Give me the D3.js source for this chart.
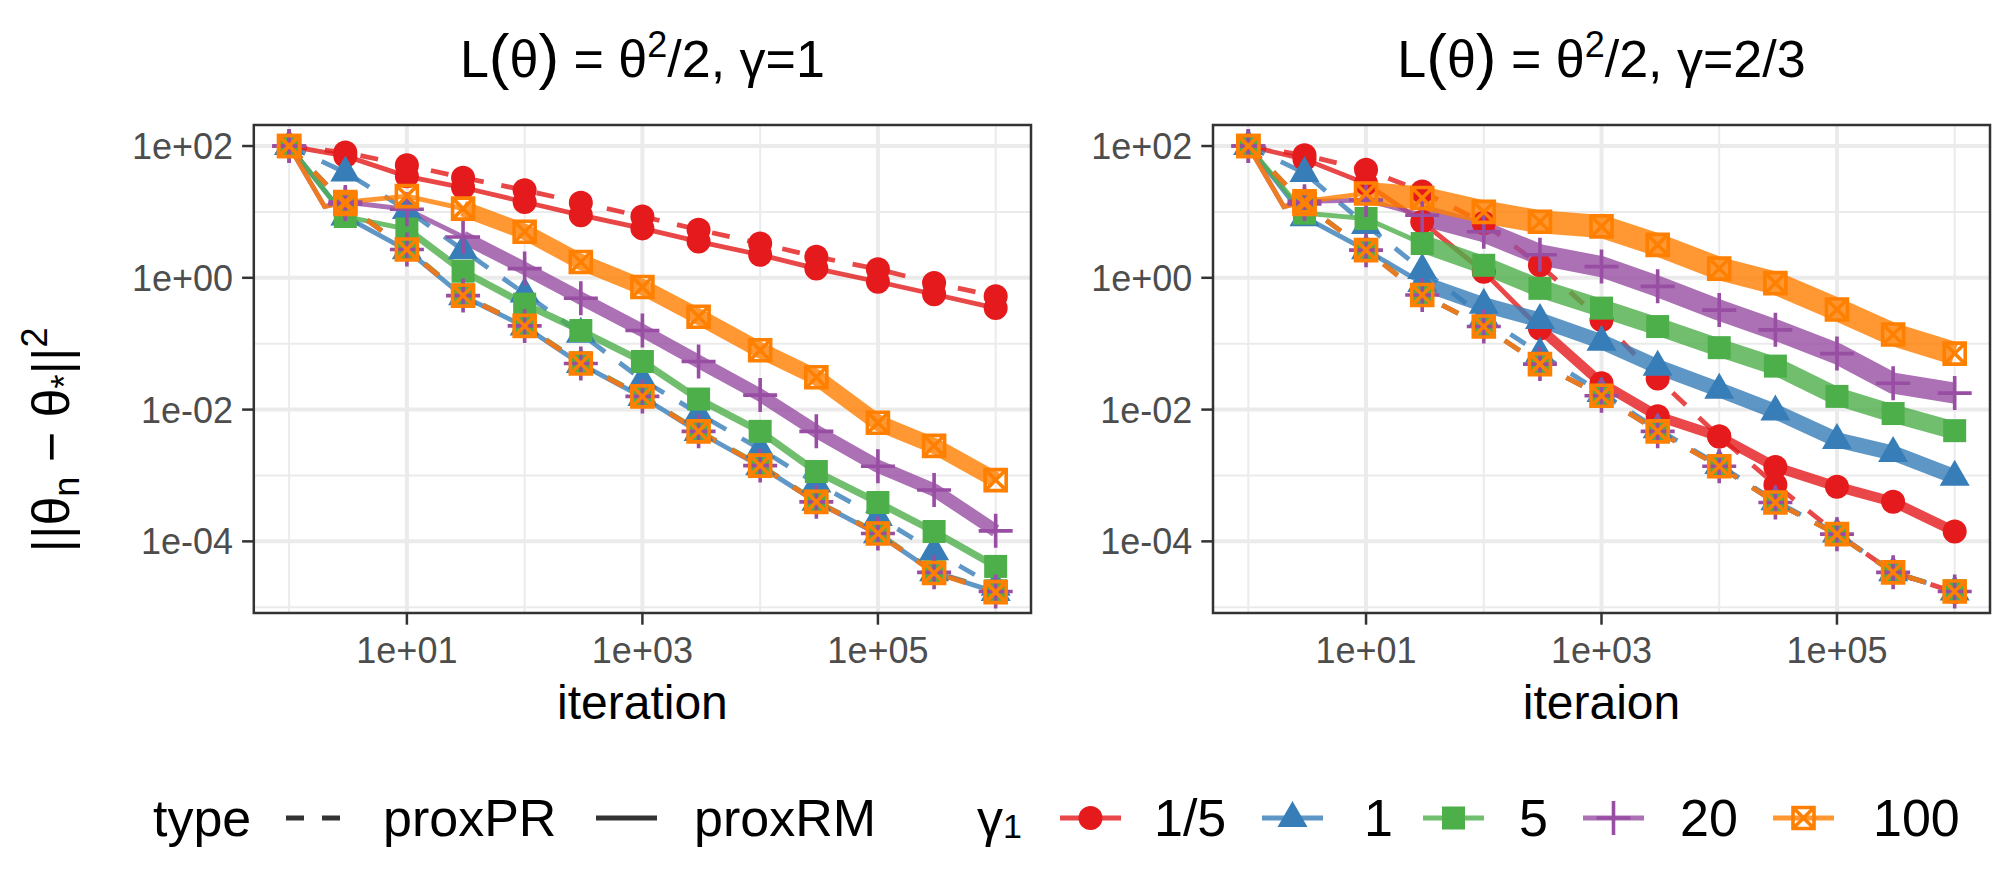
<!DOCTYPE html>
<html>
<head>
<meta charset="utf-8">
<script src="https://cdn.jsdelivr.net/npm/d3@7"></script>
<style>
  body { margin: 0; background: #fff; }
  text { font-family: "Liberation Sans", Arial, sans-serif; }
</style>
</head>
<body>
<svg id="chart" width="2015" height="881"></svg>
<script>
const iters = [1, 2, 3, 10, 30, 100, 300, 1e3, 3e3, 1e4, 3e4, 1e5, 3e5, 1e6];
const gammas = ["1/5", "1", "5", "20", "100"];
const types = ["proxPR", "proxRM"];
const xTicks = [1e1, 1e3, 1e5];
const xMinor = [1, 1e2, 1e4, 1e6];
const yTicks = [1e2, 1, 1e-2, 1e-4];
const yMinor = [1e1, 1e-1, 1e-3, 1e-5];

// log10 ||theta_n - theta*||^2, one row per gamma1 (1/5, 1, 5, 20, 100)
const left_proxPR = [
  [2, null, 1.90, 1.71, 1.52, 1.33, 1.14, 0.93, 0.73, 0.52, 0.32, 0.13, -0.08, -0.28],
  [2, null, 1.60, 1.03, 0.42, -0.24, -0.85, -1.55, -2.06, -2.60, -3.12, -3.63, -4.15, -4.69],
  [2, null, 1.12, 0.44, -0.26, -0.72, -1.29, -1.79, -2.32, -2.84, -3.39, -3.87, -4.46, -4.75],
  [2, null, 1.12, 0.43, -0.27, -0.73, -1.30, -1.80, -2.33, -2.85, -3.40, -3.88, -4.47, -4.76],
  [2, null, 1.12, 0.43, -0.27, -0.73, -1.30, -1.80, -2.33, -2.85, -3.40, -3.88, -4.48, -4.77]
];
const left_proxRM = [
  [2, null, 1.85, 1.54, 1.37, 1.15, 0.95, 0.75, 0.55, 0.35, 0.14, -0.06, -0.25, -0.46],
  [2, null, 0.93, 0.42, -0.28, -0.74, -1.31, -1.81, -2.34, -2.86, -3.40, -3.89, -4.47, -4.77],
  [2, null, 0.93, 0.74, 0.10, -0.40, -0.80, -1.27, -1.84, -2.33, -2.94, -3.41, -3.85, -4.38],
  [2, 1.08, 1.15, 1.04, 0.62, 0.14, -0.31, -0.80, -1.27, -1.78, -2.33, -2.86, -3.22, -3.84],
  [2, 1.08, 1.15, 1.24, 1.05, 0.70, 0.24, -0.14, -0.59, -1.10, -1.51, -2.20, -2.55, -3.07]
];
const right_proxPR = [
  [2, null, 1.86, 1.64, 1.31, 0.83, 0.19, -0.64, -1.53, -2.41, -3.14, -3.88, -4.47, -4.77],
  [2, null, 1.59, 0.80, 0.12, -0.59, -1.15, -1.75, -2.30, -2.84, -3.39, -3.88, -4.47, -4.76],
  [2, null, 1.12, 0.43, -0.26, -0.74, -1.31, -1.79, -2.33, -2.86, -3.41, -3.89, -4.47, -4.75],
  [2, null, 1.12, 0.42, -0.26, -0.74, -1.31, -1.79, -2.33, -2.86, -3.41, -3.89, -4.47, -4.76],
  [2, null, 1.12, 0.42, -0.26, -0.74, -1.31, -1.79, -2.33, -2.86, -3.41, -3.89, -4.47, -4.76]
];
const right_proxRM = [
  [2, null, 1.80, 1.43, 0.85, 0.09, -0.77, -1.60, -2.10, -2.41, -2.87, -3.17, -3.40, -3.85],
  [2, null, 0.92, 0.42, -0.08, -0.41, -0.64, -0.97, -1.35, -1.70, -2.03, -2.46, -2.66, -3.02],
  [2, null, 0.98, 0.90, 0.52, 0.19, -0.16, -0.46, -0.74, -1.06, -1.34, -1.80, -2.06, -2.32],
  [2, 1.08, 1.16, 1.18, 0.95, 0.70, 0.35, 0.17, -0.13, -0.49, -0.79, -1.15, -1.60, -1.75],
  [2, 1.08, 1.16, 1.28, 1.21, 1.00, 0.85, 0.78, 0.50, 0.14, -0.08, -0.48, -0.86, -1.15]
];

const colors = ["#E41A1C", "#377EB8", "#4DAF4A", "#984EA3", "#FF7F00"];

// proxRM runs are noisy: drawn as a wider band from some iteration on
const panels = [
  { gam: "1", xlab: "iteration", PR: left_proxPR, RM: left_proxRM,
    x0: 253.8, x1: 1031, band: [0, 0, 7, 13, 16], bandFrom: [1e9, 1e9, 10, 30, 30] },
  { gam: "2/3", xlab: "iteraion", PR: right_proxPR, RM: right_proxRM,
    x0: 1213, x1: 1990, band: [10, 15, 18, 21, 23], bandFrom: [300, 30, 30, 30, 10] }
];

const plotTop = 125, plotBottom = 613;
const lineW = 4.8, tickLen = 11.7;
const svg = d3.select("#chart");

const y = d3.scaleLog()
  .domain([Math.pow(10, -5.087), Math.pow(10, 2.319)])
  .range([plotBottom, plotTop]);

const fmt = d => {
  let e = Math.round(Math.log10(d));
  return "1e" + (e < 0 ? "-" : "+") + String(Math.abs(e)).padStart(2, "0");
};

function marker(sel, gi, col) {
  if (gi === 0) {
    sel.append("circle").attr("r", 12).attr("fill", col);
  } else if (gi === 1) {
    sel.append("path").attr("d", "M0,-17L15,9L-15,9Z").attr("fill", col);
  } else if (gi === 2) {
    sel.append("rect").attr("x", -11.5).attr("y", -11.5)
      .attr("width", 23).attr("height", 23).attr("fill", col);
  } else if (gi === 3) {
    sel.append("path").attr("d", "M-17,0H17M0,-17V17")
      .attr("stroke", col).attr("stroke-width", 3.6).attr("fill", "none");
  } else {
    sel.append("path").attr("d", "M-10.5,-10.5H10.5V10.5H-10.5ZM-10.5,-10.5L10.5,10.5M10.5,-10.5L-10.5,10.5")
      .attr("stroke", col).attr("stroke-width", 3.6).attr("fill", "none");
  }
}

panels.forEach((p, pi) => {
  const x = d3.scaleLog()
    .domain([Math.pow(10, -0.3), Math.pow(10, 6.3)])
    .range([p.x0, p.x1]);
  const g = svg.append("g");

  g.append("clipPath").attr("id", "clip" + pi)
    .append("rect").attr("x", p.x0).attr("y", plotTop)
    .attr("width", p.x1 - p.x0).attr("height", plotBottom - plotTop);

  // grid
  g.selectAll(".xmin").data(xMinor).enter().append("line")
    .attr("x1", d => x(d)).attr("x2", d => x(d)).attr("y1", plotTop).attr("y2", plotBottom)
    .attr("stroke", "#EBEBEB").attr("stroke-width", 2);
  g.selectAll(".ymin").data(yMinor).enter().append("line")
    .attr("x1", p.x0).attr("x2", p.x1).attr("y1", d => y(d)).attr("y2", d => y(d))
    .attr("stroke", "#EBEBEB").attr("stroke-width", 2);
  g.selectAll(".xmaj").data(xTicks).enter().append("line")
    .attr("x1", d => x(d)).attr("x2", d => x(d)).attr("y1", plotTop).attr("y2", plotBottom)
    .attr("stroke", "#EBEBEB").attr("stroke-width", 4);
  g.selectAll(".ymaj").data(yTicks).enter().append("line")
    .attr("x1", p.x0).attr("x2", p.x1).attr("y1", d => y(d)).attr("y2", d => y(d))
    .attr("stroke", "#EBEBEB").attr("stroke-width", 4);

  const plot = g.append("g").attr("clip-path", `url(#clip${pi})`);
  const line = d3.line().x(d => x(d.it)).y(d => y(Math.pow(10, d.v)));
  const pts = arr => iters.map((it, i) => ({ it: it, v: arr[i] })).filter(d => d.v !== null);

  // lines: per gamma, proxPR then proxRM
  gammas.forEach((gm, gi) => {
    types.forEach(tp => {
      const data = pts(p[tp.slice(4)][gi]);
      const lg = plot.append("g").attr("opacity", 0.8);
      lg.append("path").attr("d", line(data))
        .attr("fill", "none").attr("stroke", colors[gi]).attr("stroke-width", lineW)
        .attr("stroke-dasharray", tp === "proxPR" ? "18,18" : null);
      if (tp === "proxRM" && p.band[gi] > 0) {
        lg.append("path").attr("d", line(data.filter(d => d.it >= p.bandFrom[gi])))
          .attr("fill", "none").attr("stroke", colors[gi])
          .attr("stroke-width", p.band[gi]).attr("stroke-linejoin", "round");
      }
    });
  });

  // points
  gammas.forEach((gm, gi) => {
    types.forEach(tp => {
      const data = pts(p[tp.slice(4)][gi]).filter(d => d.it !== 2);
      data.forEach(d => {
        const m = plot.append("g")
          .attr("transform", `translate(${x(d.it)},${y(Math.pow(10, d.v))})`);
        marker(m, gi, colors[gi]);
      });
    });
  });

  // border
  g.append("rect").attr("x", p.x0).attr("y", plotTop)
    .attr("width", p.x1 - p.x0).attr("height", plotBottom - plotTop)
    .attr("fill", "none").attr("stroke", "#333333").attr("stroke-width", 2.5);

  // axes ticks + labels
  g.selectAll(".xt").data(xTicks).enter().append("line")
    .attr("x1", d => x(d)).attr("x2", d => x(d))
    .attr("y1", plotBottom).attr("y2", plotBottom + tickLen)
    .attr("stroke", "#333333").attr("stroke-width", 2.5);
  g.selectAll(".xl").data(xTicks).enter().append("text")
    .attr("x", d => x(d)).attr("y", 663).attr("text-anchor", "middle")
    .attr("font-size", 36).attr("fill", "#4D4D4D").text(fmt);
  g.selectAll(".yt").data(yTicks).enter().append("line")
    .attr("x1", p.x0 - tickLen).attr("x2", p.x0)
    .attr("y1", d => y(d)).attr("y2", d => y(d))
    .attr("stroke", "#333333").attr("stroke-width", 2.5);
  g.selectAll(".yl").data(yTicks).enter().append("text")
    .attr("x", p.x0 - tickLen - 9).attr("y", d => y(d)).attr("dy", "0.36em")
    .attr("text-anchor", "end").attr("font-size", 36).attr("fill", "#4D4D4D").text(fmt);

  g.append("text").attr("x", (p.x0 + p.x1) / 2).attr("y", 719)
    .attr("text-anchor", "middle").attr("font-size", 48).text(p.xlab);

  // title: L(θ) = θ²/2, γ=...
  const t = g.append("text").attr("x", (p.x0 + p.x1) / 2).attr("y", 77)
    .attr("text-anchor", "middle").attr("font-size", 52);
  t.append("tspan").text("L");
  t.append("tspan").attr("font-size", 62).text("(");
  t.append("tspan").text("θ");
  t.append("tspan").attr("font-size", 62).text(")");
  t.append("tspan").text(" = θ");
  t.append("tspan").attr("font-size", 36).attr("dy", -20).text("2");
  t.append("tspan").attr("dy", 20).text("/2, γ=" + p.gam);
});

// shared y title
const yt = svg.append("text").attr("transform", "translate(69,440) rotate(-90)")
  .attr("text-anchor", "middle").attr("font-size", 52);
yt.append("tspan").text("||θ");
yt.append("tspan").attr("font-size", 36).attr("dy", 10).text("n");
yt.append("tspan").attr("dy", -10).text(" − θ");
yt.append("tspan").attr("font-size", 36).attr("dy", 8).text("*");
yt.append("tspan").attr("dy", -8).text("||");
yt.append("tspan").attr("font-size", 36).attr("dy", -22).text("2");

// legend
const lgY = 818, lgBase = 836;
const leg = svg.append("g");
leg.append("text").attr("x", 153).attr("y", lgBase).attr("font-size", 52).text("type");
const typeKeys = [{ x: 286, dash: "18,18", label: "proxPR", lx: 383 },
                  { x: 596, dash: null, label: "proxRM", lx: 694 }];
typeKeys.forEach(k => {
  leg.append("line").attr("x1", k.x).attr("x2", k.x + 61).attr("y1", lgY).attr("y2", lgY)
    .attr("stroke", "#333333").attr("stroke-width", lineW).attr("stroke-dasharray", k.dash);
  leg.append("text").attr("x", k.lx).attr("y", lgBase).attr("font-size", 52).text(k.label);
});
const gt = leg.append("text").attr("x", 977).attr("y", lgBase).attr("font-size", 52);
gt.append("tspan").text("γ");
gt.append("tspan").attr("font-size", 34).attr("dy", 2).text("1");

const gKeyX = [1060, 1262, 1423, 1583, 1773];
const gLabX = [1154, 1364, 1519, 1680, 1873];
gammas.forEach((gm, gi) => {
  leg.append("line").attr("x1", gKeyX[gi]).attr("x2", gKeyX[gi] + 61)
    .attr("y1", lgY).attr("y2", lgY).attr("stroke", colors[gi])
    .attr("stroke-width", lineW).attr("opacity", 0.8);
  const m = leg.append("g").attr("transform", `translate(${gKeyX[gi] + 30.5},${lgY})`);
  marker(m, gi, colors[gi]);
  leg.append("text").attr("x", gLabX[gi]).attr("y", lgBase).attr("font-size", 52).text(gm);
});
</script>
</body>
</html>
